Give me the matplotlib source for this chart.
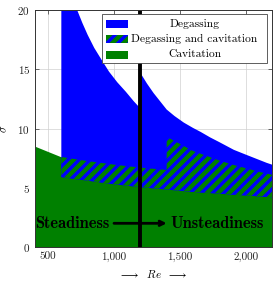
import matplotlib.pyplot as plt
import numpy as np
from matplotlib.patches import Rectangle
from matplotlib.ticker import FuncFormatter

# Cavitation upper bound (green region goes from 0 up to this line)
re_cav = [400, 600, 800, 1000, 1200, 1400, 1400, 1500, 1600, 1700, 1800, 1900, 2000, 2100, 2200]
sigma_cav = [8.5, 7.6, 7.25, 6.95, 6.7, 6.5, 9.3, 8.7, 8.1, 7.7, 7.3, 6.95, 6.65, 6.35, 6.1]

# Degassing lower bound
re_deg_low = [600, 800, 1000, 1200, 1400, 1600, 1800, 2000, 2200]
sigma_deg_low = [5.9, 5.6, 5.3, 5.05, 4.85, 4.65, 4.5, 4.35, 4.2]

# Degassing upper bound (jumps at the steadiness limit)
re_deg_top = [600, 720, 760, 800, 850, 900, 962, 1025, 1090, 1150, 1200,
              1200, 1250, 1300, 1350, 1400, 1460, 1530, 1600, 1660, 1730,
              1800, 1910, 2000, 2080, 2160, 2200]
sigma_deg_top = [24.0, 20.0, 18.9, 17.9, 16.8, 15.9, 14.8, 13.9, 13.1, 12.3, 11.7,
                 14.7, 13.8, 13.0, 12.3, 11.6, 11.05, 10.5, 10.05, 9.7, 9.25,
                 8.85, 8.2, 7.8, 7.45, 7.1, 6.95]

re_transition = 1200
x_ticks = [500, 1000, 1500, 2000]
y_ticks = [0, 5, 10, 15, 20]
legend_labels = ["Degassing", "Degassing and cavitation", "Cavitation"]

BLUE = "#0000ff"
GREEN = "#008000"

plt.rcParams.update({
    "font.family": "serif",
    "font.serif": ["cmr10", "DejaVu Serif"],
    "mathtext.fontset": "cm",
    "axes.formatter.use_mathtext": True,
    "font.size": 8.0,
    "hatch.color": GREEN,
    "hatch.linewidth": 3.2,
})

fig = plt.figure(figsize=(2.73, 2.82), dpi=100)
ax = fig.add_axes([35 / 273, 35 / 282, 237 / 273, 237 / 282])

# Cavitation
ax.fill_between(re_cav, 0, sigma_cav, color=GREEN, lw=0, zorder=1)

# Degassing polygon: top boundary then lower boundary reversed
deg_x = np.concatenate([re_deg_top, re_deg_low[::-1]])
deg_y = np.concatenate([sigma_deg_top, sigma_deg_low[::-1]])
ax.fill(deg_x, deg_y, facecolor=BLUE, edgecolor="none", lw=0, zorder=2)

# Overlap: cavitation top (from Re=600) down to degassing lower bound
cav_x = np.array(re_cav[1:])
cav_y = np.array(sigma_cav[1:])
both_x = np.concatenate([cav_x, re_deg_low[::-1]])
both_y = np.concatenate([cav_y, sigma_deg_low[::-1]])
ax.fill(both_x, both_y, facecolor=BLUE, edgecolor=GREEN, hatch="///", lw=0, zorder=3)

ax.axvline(re_transition, color="black", lw=2.8, zorder=4)

# Steadiness -> Unsteadiness annotation
ax.annotate("", xy=(1400, 2), xytext=(1000, 2),
            arrowprops=dict(arrowstyle="->", lw=2, color="black", shrinkA=0, shrinkB=0),
            zorder=5)
ax.text(402, 2, "Steadiness", family="cmb10", fontsize=11.8, ha="left", va="center", zorder=5)
ax.text(1780, 2, "Unsteadiness", family="cmb10", fontsize=11.8, ha="center", va="center", zorder=5)

ax.set_xlim(400, 2200)
ax.set_ylim(0, 20)
ax.set_xticks(x_ticks)
ax.set_yticks(y_ticks)
ax.xaxis.set_major_formatter(FuncFormatter(lambda v, _: f"{int(v):,}"))
ax.tick_params(direction="in", length=3, width=0.5, top=True, right=True,
               colors="#333333", labelcolor="#222222", pad=3.5)
ax.grid(True, color="#d0d0d0", lw=0.5)
ax.set_axisbelow(True)
for s in ax.spines.values():
    s.set_linewidth(0.7)
    s.set_color("#333333")
    s.set_zorder(6)

ax.set_xlabel(r"$\longrightarrow\ \ Re\ \ \longrightarrow$", labelpad=4)
ax.set_ylabel(r"$\sigma$", labelpad=6)

# Legend drawn by hand so the labels are centred like the original
ax.add_patch(Rectangle((0.283, 0.776), 0.696, 0.207, transform=ax.transAxes,
                       facecolor="white", edgecolor="#444444", lw=0.6, zorder=7))
row_y = [0.941, 0.878, 0.812]
ax.add_patch(Rectangle((0.300, row_y[0] - 0.017), 0.092, 0.034, transform=ax.transAxes,
                       facecolor=BLUE, edgecolor="none", lw=0, zorder=8))
ax.add_patch(Rectangle((0.300, row_y[1] - 0.017), 0.092, 0.034, transform=ax.transAxes,
                       facecolor=BLUE, edgecolor=GREEN, hatch="///", lw=0, zorder=8))
ax.add_patch(Rectangle((0.300, row_y[2] - 0.017), 0.092, 0.034, transform=ax.transAxes,
                       facecolor=GREEN, edgecolor="none", lw=0, zorder=8))
for lab, yy in zip(legend_labels, row_y):
    ax.text(0.673, yy, lab, transform=ax.transAxes, ha="center", va="center",
            fontsize=8.3, zorder=9)

fig.savefig("out.png", dpi=100)
